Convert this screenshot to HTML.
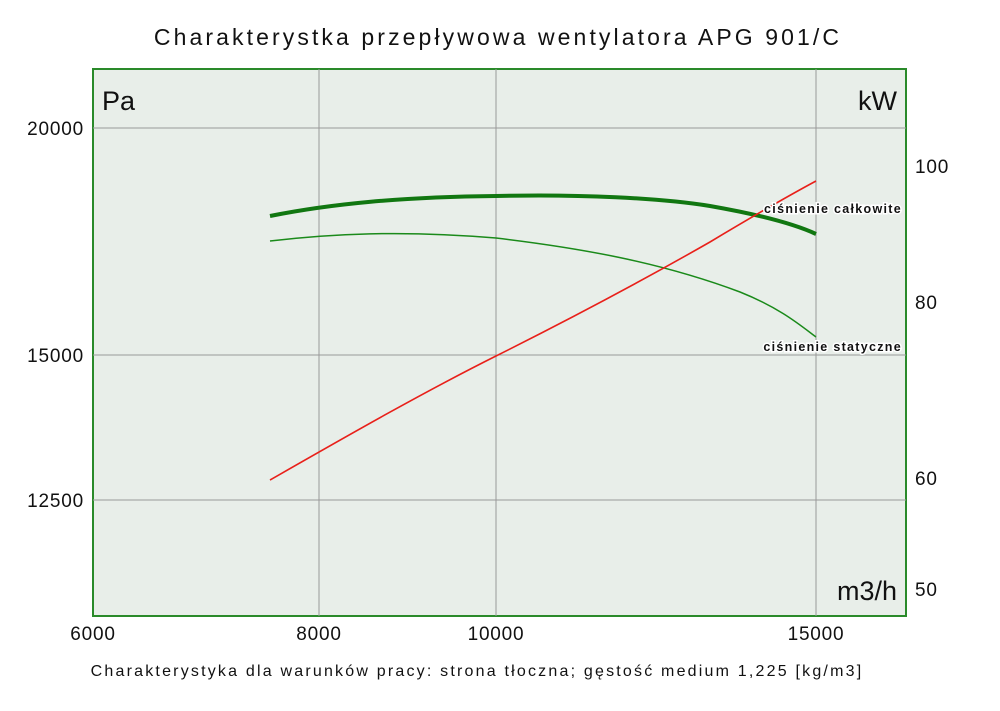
<!DOCTYPE html>
<html><head><meta charset="utf-8"><style>
body{margin:0;background:#fff;width:1000px;height:706px;overflow:hidden}
svg text{font-family:"Liberation Sans","DejaVu Sans",sans-serif}
</style></head><body>
<svg width="1000" height="706" xmlns="http://www.w3.org/2000/svg">
<text x="498" y="45" font-size="23" text-anchor="middle" fill="#111" letter-spacing="3.1">Charakterystka przepływowa wentylatora APG 901/C</text>
<rect x="93" y="69" width="813" height="547" fill="#e8eee9" stroke="#2a8a2a" stroke-width="2"/>
<g stroke="#999" stroke-width="1">
<line x1="319" y1="69" x2="319" y2="616"/><line x1="496" y1="69" x2="496" y2="616"/><line x1="816" y1="69" x2="816" y2="616"/>
<line x1="93" y1="128" x2="906" y2="128"/><line x1="93" y1="355" x2="906" y2="355"/><line x1="93" y1="500" x2="906" y2="500"/>
</g>
<text x="102" y="110" font-size="27" fill="#111">Pa</text>
<text x="897" y="110" font-size="27" fill="#111" text-anchor="end">kW</text>
<text x="897" y="600" font-size="27" fill="#111" text-anchor="end">m3/h</text>
<g font-size="19" fill="#111" text-anchor="end" letter-spacing="0.8">
<text x="84" y="135">20000</text><text x="84" y="362">15000</text><text x="84" y="507">12500</text>
</g>
<g font-size="19" fill="#111" letter-spacing="0.8">
<text x="915" y="173">100</text><text x="915" y="309">80</text><text x="915" y="485">60</text><text x="915" y="596">50</text>
</g>
<g font-size="19" fill="#111" text-anchor="middle" letter-spacing="0.8">
<text x="93" y="640">6000</text><text x="319" y="640">8000</text><text x="496" y="640">10000</text><text x="816" y="640">15000</text>
</g>
<path d="M270,216 C330,204 400,197 496,196 C580,194 660,198 710,206 C750,213 790,222 816,234" fill="none" stroke="#117711" stroke-width="4"/>
<path d="M270,241 C330,234 400,230 496,238 C580,248 660,262 740,292 C780,308 800,325 816,337" fill="none" stroke="#1a8a1a" stroke-width="1.5"/>
<path d="M270,480 C340,440 420,394 496,356 C560,324 640,282 710,242 C760,212 790,195 816,181" fill="none" stroke="#e8201a" stroke-width="1.6"/>
<g font-size="12.5" font-weight="bold" fill="#111" stroke="#fff" stroke-width="3" paint-order="stroke" text-anchor="end" letter-spacing="1.3">
<text x="902" y="213">ciśnienie całkowite</text>
<text x="902" y="351">ciśnienie statyczne</text>
</g>
<text x="477" y="676" font-size="16" text-anchor="middle" fill="#111" letter-spacing="2.2">Charakterystyka dla warunków pracy: strona tłoczna; gęstość medium 1,225 [kg/m3]</text>
</svg>
</body></html>
